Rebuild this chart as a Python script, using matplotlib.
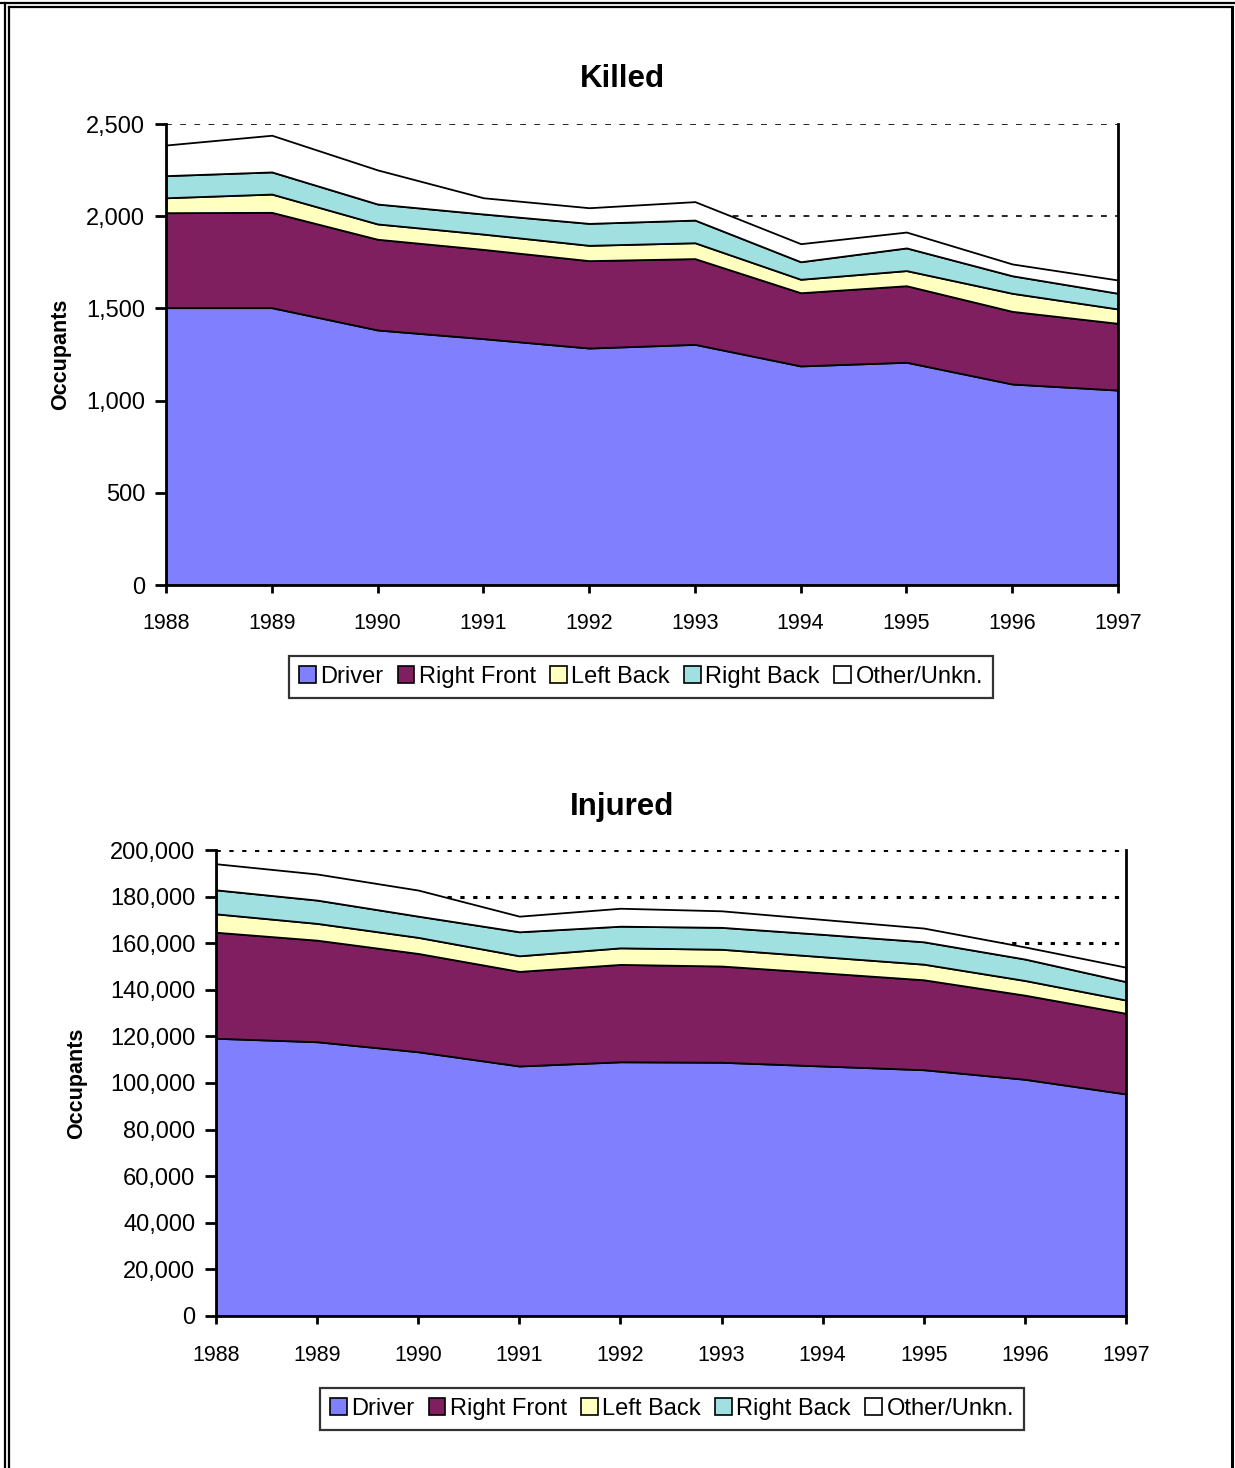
import matplotlib
matplotlib.use("Agg")
import matplotlib.pyplot as plt
from matplotlib.patches import Patch
from matplotlib.lines import Line2D
from matplotlib.ticker import FuncFormatter

plt.rcParams['font.family'] = ['Liberation Sans', 'DejaVu Sans']

# data
years = [1988, 1989, 1990, 1991, 1992, 1993, 1994, 1995, 1996, 1997]
series_names = ["Driver", "Right Front", "Left Back", "Right Back", "Other/Unkn."]
colors = ["#8080ff", "#7f1f5f", "#ffffc0", "#a0e0e0", "#ffffff"]

killed_driver = [1504, 1504, 1383, 1336, 1285, 1305, 1188, 1208, 1090, 1057]
killed_right_front = [515, 517, 492, 484, 474, 465, 397, 415, 394, 362]
killed_left_back = [81, 99, 83, 83, 83, 86, 73, 82, 98, 78]
killed_right_back = [120, 120, 108, 109, 119, 123, 95, 123, 95, 85]
killed_other = [166, 199, 185, 88, 85, 100, 98, 86, 64, 72]

injured_driver = [119200, 117700, 113400, 107300, 109100, 108900, 107300, 105700, 101600, 95300]
injured_right_front = [45500, 43600, 42200, 40600, 41800, 41300, 40000, 38600, 36100, 34600]
injured_left_back = [7900, 7200, 6900, 6700, 7100, 7200, 6900, 6700, 6300, 5700]
injured_right_back = [10300, 10000, 9100, 10300, 9300, 9400, 9600, 9600, 9200, 7900]
injured_other = [11200, 11200, 11200, 6700, 7700, 7100, 6400, 5900, 5200, 6200]

W, H = 1235, 1468
fig = plt.figure(figsize=(W / 100, H / 100), dpi=100)


def px_box(l, t, r, b):
    return [l / W, 1 - b / H, (r - l) / W, (b - t) / H]


def panel(box, data, ymax, ystep, title, title_y, ylab_x, legend_xy, grid_lw, grid_dash, xpad):
    ax = fig.add_axes(px_box(*box))
    ax.stackplot(years, *data, colors=colors, edgecolor="black", linewidth=1.3, zorder=3)
    ax.set_xlim(years[0], years[-1])
    ax.set_ylim(0, ymax)
    ax.set_xticks(years)
    ax.set_yticks(range(0, ymax + 1, ystep))
    ax.yaxis.set_major_formatter(FuncFormatter(lambda v, p: f"{int(v):,}"))
    ax.grid(True, axis="y", color="black", linewidth=grid_lw, linestyle=(0, grid_dash), zorder=1)
    ax.set_axisbelow(True)
    ax.spines["top"].set_visible(False)
    for s in ["left", "bottom", "right"]:
        ax.spines[s].set_linewidth(2)
        ax.spines[s].set_zorder(5)
    ax.tick_params(axis="y", direction="out", length=8, width=2, labelsize=17, pad=7)
    ax.tick_params(axis="x", direction="out", length=6, width=2, labelsize=15.5, pad=xpad)
    fig.text(622 / W, 1 - title_y / H, title, ha="center", va="center",
             fontsize=22.5, fontweight="bold")
    fig.text(ylab_x / W, 1 - (box[1] + box[3]) / 2 / H, "Occupants", rotation=90,
             ha="center", va="center", fontsize=15.5, fontweight="bold")
    handles = [Patch(facecolor=c, edgecolor="black", linewidth=1.2) for c in colors]
    leg = fig.legend(handles, series_names, loc="center",
                     bbox_to_anchor=(legend_xy[0] / W, 1 - legend_xy[1] / H),
                     ncol=5, frameon=True, fancybox=False, edgecolor="black",
                     handlelength=0.7, handleheight=0.7, handletextpad=0.2,
                     columnspacing=0.6, borderpad=0.42, fontsize=17)
    leg.get_frame().set_linewidth(1.6)
    return ax


panel((166, 124, 1118, 585),
      [killed_driver, killed_right_front, killed_left_back, killed_right_back, killed_other],
      2500, 500, "Killed", 79, 61, (641, 677), 1.2, (3.5, 5), 14)

panel((216, 850, 1126, 1316),
      [injured_driver, injured_right_front, injured_left_back, injured_right_back, injured_other],
      200000, 20000, "Injured", 807, 77, (672, 1409), 2.2, (1.4, 2.8), 15)

# double page border
def border(x0, y0, x1, y1, lw):
    fig.add_artist(Line2D([x0 / W, x1 / W], [1 - y0 / H, 1 - y1 / H],
                          transform=fig.transFigure, color="black", linewidth=lw))

border(0, 3, W, 3, 1.6)
border(5, 3, 5, H, 1.6)
border(9, 7, 1232, 7, 1.6)
border(9, 7, 9, H, 1.6)
border(1232, 7, 1232, H, 2.2)

fig.savefig("out.png", dpi=100)
